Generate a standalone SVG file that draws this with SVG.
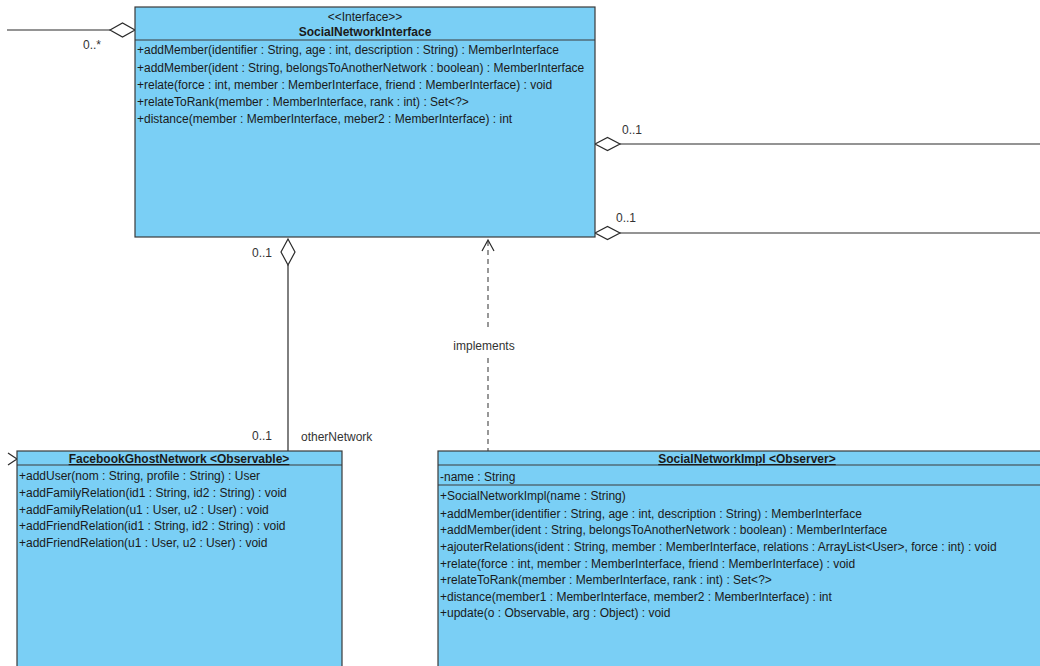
<svg xmlns="http://www.w3.org/2000/svg" width="1040" height="666" viewBox="0 0 1040 666">
  <style>
    .box { fill: #7acff5; stroke: #3a3a3a; stroke-width: 1.2; }
    .sep { stroke: #3a3a3a; stroke-width: 1.2; }
    .t { font-family: "Liberation Sans", Arial, sans-serif; font-size: 12px; fill: #1a1a1a; }
    .h { font-weight: bold; text-anchor: middle; }
    .u { text-decoration: underline; }
    .c { text-anchor: middle; }
    .lbl { font-family: "Liberation Sans", Arial, sans-serif; font-size: 12px; fill: #333; }
    .ln { fill: none; stroke: #2a2a2a; stroke-width: 1.2; }
    .dash { fill: none; stroke: #444; stroke-width: 1.1; stroke-dasharray: 5 4; }
    .dia { fill: #fff; stroke: #2a2a2a; stroke-width: 1.2; }
  </style>

  <!-- connectors -->
  <g id="connectors">
    <!-- aggregation entering from the left -->
    <line class="ln" x1="7" y1="30" x2="110" y2="30"/>
    <polygon class="dia" points="110,30 122.5,23 135,30 122.5,37"/>
    <text class="lbl" x="83" y="49">0..*</text>

    <!-- aggregations leaving to the right -->
    <line class="ln" x1="620" y1="144" x2="1040" y2="144"/>
    <polygon class="dia" points="595,144 607.5,137.5 620,144 607.5,150.5"/>
    <text class="lbl" x="622" y="134">0..1</text>

    <line class="ln" x1="620" y1="233" x2="1040" y2="233"/>
    <polygon class="dia" points="595,233 607.5,226.5 620,233 607.5,239.5"/>
    <text class="lbl" x="616" y="222">0..1</text>

    <!-- otherNetwork aggregation -->
    <line class="ln" x1="288" y1="265" x2="288" y2="451"/>
    <polygon class="dia" points="288,239 295,252 288,265 281,252"/>
    <text class="lbl" x="252" y="257">0..1</text>
    <text class="lbl" x="252" y="440">0..1</text>
    <text class="lbl" x="301" y="441">otherNetwork</text>

    <!-- realization -->
    <line class="dash" x1="488" y1="241" x2="488" y2="331"/>
    <line class="dash" x1="488" y1="358" x2="488" y2="451"/>
    <polyline class="ln" points="482,251 488,240 494,251"/>
    <text class="lbl c" x="484" y="350">implements</text>

    <!-- arrowhead at the left edge of FacebookGhostNetwork -->
    <polyline class="ln" points="8,453 17,459 8,465"/>
  </g>

  <!-- SocialNetworkInterface -->
  <g id="SocialNetworkInterface">
    <rect class="box" x="135" y="7" width="460" height="230"/>
    <line class="sep" x1="135" y1="40" x2="595" y2="40"/>
    <text class="t c" x="365" y="21">&lt;&lt;Interface&gt;&gt;</text>
    <text class="t h" x="365" y="36">SocialNetworkInterface</text>
    <text class="t" x="137" y="54">+addMember(identifier : String, age : int, description : String) : MemberInterface</text>
    <text class="t" x="137" y="72">+addMember(ident : String, belongsToAnotherNetwork : boolean) : MemberInterface</text>
    <text class="t" x="137" y="89">+relate(force : int, member : MemberInterface, friend : MemberInterface) : void</text>
    <text class="t" x="137" y="106">+relateToRank(member : MemberInterface, rank : int) : Set&lt;?&gt;</text>
    <text class="t" x="137" y="123">+distance(member : MemberInterface, meber2 : MemberInterface) : int</text>
  </g>

  <!-- FacebookGhostNetwork -->
  <g id="FacebookGhostNetwork">
    <rect class="box" x="17" y="451" width="325" height="230"/>
    <line class="sep" x1="17" y1="465" x2="342" y2="465"/>
    <text class="t h u" x="179" y="463">FacebookGhostNetwork &lt;Observable&gt;</text>
    <text class="t" x="19" y="480">+addUser(nom : String, profile : String) : User</text>
    <text class="t" x="19" y="497">+addFamilyRelation(id1 : String, id2 : String) : void</text>
    <text class="t" x="19" y="514">+addFamilyRelation(u1 : User, u2 : User) : void</text>
    <text class="t" x="19" y="530">+addFriendRelation(id1 : String, id2 : String) : void</text>
    <text class="t" x="19" y="547">+addFriendRelation(u1 : User, u2 : User) : void</text>
  </g>

  <!-- SocialNetworkImpl -->
  <g id="SocialNetworkImpl">
    <rect class="box" x="438" y="451" width="620" height="230"/>
    <line class="sep" x1="438" y1="465" x2="1058" y2="465"/>
    <line class="sep" x1="438" y1="485" x2="1058" y2="485"/>
    <text class="t h u" x="747" y="463">SocialNetworkImpl &lt;Observer&gt;</text>
    <text class="t" x="440" y="481">-name : String</text>
    <text class="t" x="440" y="500">+SocialNetworkImpl(name : String)</text>
    <text class="t" x="440" y="518">+addMember(identifier : String, age : int, description : String) : MemberInterface</text>
    <text class="t" x="440" y="534">+addMember(ident : String, belongsToAnotherNetwork : boolean) : MemberInterface</text>
    <text class="t" x="440" y="551">+ajouterRelations(ident : String, member : MemberInterface, relations : ArrayList&lt;User&gt;, force : int) : void</text>
    <text class="t" x="440" y="568">+relate(force : int, member : MemberInterface, friend : MemberInterface) : void</text>
    <text class="t" x="440" y="584">+relateToRank(member : MemberInterface, rank : int) : Set&lt;?&gt;</text>
    <text class="t" x="440" y="601">+distance(member1 : MemberInterface, member2 : MemberInterface) : int</text>
    <text class="t" x="440" y="617">+update(o : Observable, arg : Object) : void</text>
  </g>
</svg>
